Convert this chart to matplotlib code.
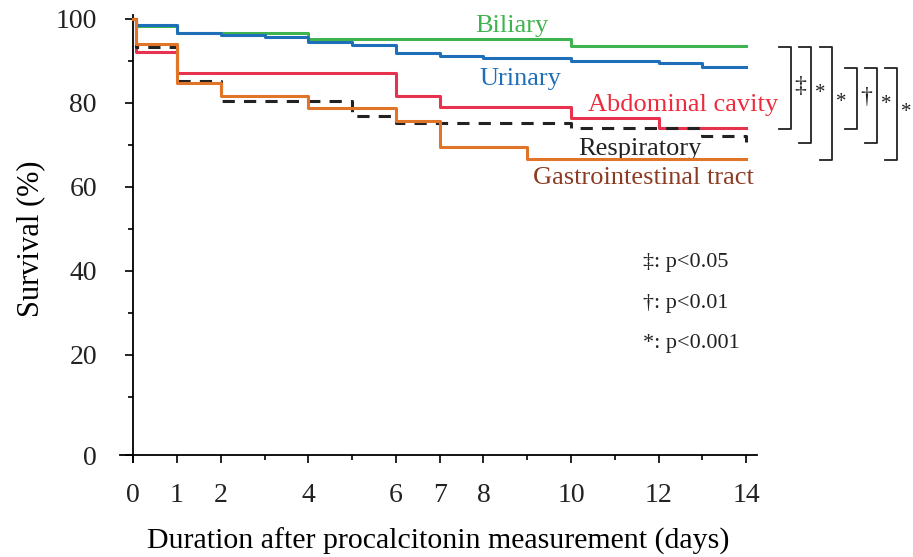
import matplotlib
matplotlib.use("Agg")
import matplotlib.pyplot as plt
import numpy as np

plt.rcParams['font.family'] = ['Liberation Serif', 'DejaVu Serif']

# Kaplan-Meier step data (days, survival %)
biliary_t = [0, 0.06, 1, 4, 10, 14]
biliary_s = [100, 98.3, 96.6, 95.2, 93.6, 93.6]

urinary_t = [0, 0.06, 1, 2, 3, 4, 5, 6, 7, 8, 10, 12, 13, 14]
urinary_s = [100, 98.6, 96.7, 96.2, 95.6, 94.4, 93.8, 92.0, 91.2, 90.6, 90.0, 89.4, 88.5, 88.5]

abdominal_t = [0, 0.06, 1, 6, 7, 10, 12, 14]
abdominal_s = [100, 92.2, 87.2, 81.7, 79.0, 76.3, 74.0, 74.0]

resp_t = [0, 0.06, 1, 2, 5, 6, 10, 13, 14]
resp_s = [100, 93.4, 85.2, 80.5, 76.9, 75.2, 74.0, 72.0, 70.8]

gi_t = [0, 0.06, 1, 2, 4, 6, 7, 9, 14]
gi_s = [100, 94.0, 84.8, 81.7, 78.7, 75.6, 69.6, 66.7, 66.7]

labels = ["Biliary", "Urinary", "Abdominal cavity", "Respiratory", "Gastrointestinal tract"]

x_ticks = [0, 1, 2, 4, 6, 7, 8, 10, 12, 14]
y_ticks = [20, 40, 60, 80, 100]

# comparisons: (upper series, lower series, symbol)
comparisons = [(0, 2, "\u2021"), (0, 3, "*"), (0, 4, "*"),
               (1, 2, "\u2020"), (1, 3, "*"), (1, 4, "*")]
footnotes = ["\u2021: p<0.05", "\u2020: p<0.01", "*: p<0.001"]

fig = plt.figure(figsize=(9.13, 5.57), dpi=100)
ax = fig.add_axes([0.1314, 0.1706, 0.698, 0.803])

series = [(biliary_t, biliary_s), (urinary_t, urinary_s), (abdominal_t, abdominal_s),
          (resp_t, resp_s), (gi_t, gi_s)]
colors = ['#3fb34f', '#1f6fb8', '#e8334f', '#222222', '#e07428']
styles = ['-', '-', '-', (0, (4, 3)), '-']
order = [4, 3, 2, 0, 1]
for i in order:
    t, s = series[i]
    ax.step(t, s, where='post', color=colors[i], linestyle=styles[i], lw=2.2, zorder=3 + i)

ax.set_xlim(-0.3, 14.25)
ax.set_ylim(-5.5, 101)

ax.spines['top'].set_visible(False)
ax.spines['right'].set_visible(False)
ax.spines['left'].set_position(('data', 0))
ax.spines['bottom'].set_position(('data', -3.9))
ax.spines['left'].set_linewidth(1.3)
ax.spines['bottom'].set_linewidth(1.3)

ax.set_xticks(x_ticks)
ax.set_xticks(range(0, 15), minor=True)
ax.set_xticklabels([str(v) for v in x_ticks])
ax.set_yticks([-3.9] + y_ticks)
ax.set_yticklabels(['0'] + [str(v) for v in y_ticks])
ax.set_yticks(range(10, 100, 20), minor=True)
ax.tick_params(axis='x', which='major', direction='out', length=6, width=1.2, labelsize=20, pad=14)
ax.tick_params(axis='x', which='minor', direction='out', length=3.5, width=1.2)
ax.tick_params(axis='y', which='major', direction='out', length=6, width=1.2, labelsize=20, pad=20)
ax.tick_params(axis='y', which='minor', direction='out', length=3.5, width=1.2)
for lab in ax.get_xticklabels() + ax.get_yticklabels():
    lab.set_color('#222222')

ax.set_xlabel("Duration after procalcitonin measurement (days)", fontsize=21.5, labelpad=14)
ax.set_ylabel("Survival (%)", fontsize=22, labelpad=6)
ax.yaxis.set_label_coords(-0.117, 0.5)

# curve labels
label_colors = ['#3fb34f', '#1f6fb8', '#ee2a3c', '#222222', '#8c3b22']
label_pos = [(8.65, 98.3), (8.84, 85.8), (12.56, 79.4), (11.58, 69.1), (11.65, 62.0)]
for name, c, (x, y) in zip(labels, label_colors, label_pos):
    ax.text(x, y, name, color=c, fontsize=19, ha='center', va='center')

# significance brackets
finals = [s[-1] for _, s in series]
bx = [15.02, 15.48, 15.96, 16.53, 16.99, 17.45]
for k, (a, b, sym) in enumerate(comparisons):
    top = finals[a] - 0.3
    bot = finals[b] - 0.3
    x0 = bx[k]
    w = 0.28
    ax.plot([x0 - w, x0, x0, x0 - w], [top, top, bot, bot], color='#222222',
            lw=1.3, clip_on=False)
    ax.text(x0 + 0.08, (top + bot) / 2 + 0.3, sym, fontsize=17 if sym != "*" else 15,
            ha='left', va='center', color='#222222', clip_on=False)

# footnotes
for k, note in enumerate(footnotes):
    ax.text(11.65, 42.0 - k * 9.7, note, fontsize=16, ha='left', va='center', color='#222222')

fig.savefig("out.png", dpi=100)
